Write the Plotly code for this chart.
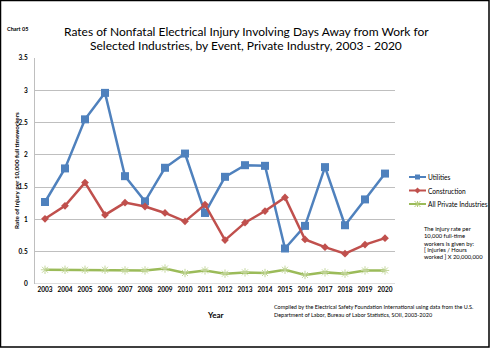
import plotly.graph_objects as go

years = [str(y) for y in range(2003, 2021)]
utilities = [1.27, 1.79, 2.55, 2.96, 1.67, 1.28, 1.80, 2.02, 1.10, 1.66, 1.84, 1.83, 0.55, 0.90, 1.81, 0.91, 1.31, 1.71]
construction = [1.01, 1.21, 1.57, 1.07, 1.26, 1.20, 1.10, 0.97, 1.23, 0.68, 0.95, 1.13, 1.34, 0.69, 0.57, 0.47, 0.61, 0.71]
all_private = [0.22, 0.22, 0.22, 0.22, 0.21, 0.21, 0.24, 0.17, 0.21, 0.16, 0.18, 0.17, 0.22, 0.14, 0.18, 0.16, 0.21, 0.21]
y_ticks = [0, 0.5, 1, 1.5, 2, 2.5, 3, 3.5]
y_tick_labels = ["0", "0.5", "1", "1.5", "2", "2.5", "3", "3.5"]
series_names = ["Utilities", "Construction", "All Private Industries"]
series_colors = ["#4F81BD", "#C0504D", "#9BBB59"]

FONT = "Lato"
W, H = 492, 348
L, R, T, B = 35, 97, 58, 64
PW, PH = W - L - R, H - T - B

def px(x):
    return (x - L) / PW

def py(y):
    return (H - B - y) / PH

fig = go.Figure()
fig.add_trace(go.Scatter(x=years, y=utilities, name=series_names[0], mode="lines+markers",
                         line=dict(color=series_colors[0], width=2.5),
                         marker=dict(symbol="square", size=8, color=series_colors[0])))
fig.add_trace(go.Scatter(x=years, y=construction, name=series_names[1], mode="lines+markers",
                         line=dict(color=series_colors[1], width=2.5),
                         marker=dict(symbol="diamond", size=6, color=series_colors[1])))
fig.add_trace(go.Scatter(x=years, y=all_private, name=series_names[2], mode="lines+markers",
                         line=dict(color=series_colors[2], width=2.5),
                         marker=dict(symbol="asterisk-open", size=7, color="#C3D69B",
                                     line=dict(width=1, color="#B5CC7A"))))

fig.update_layout(
    width=W, height=H,
    margin=dict(l=L, r=R, t=T, b=B, autoexpand=False),
    paper_bgcolor="white", plot_bgcolor="white",
    font=dict(family=FONT, color="black"),
    showlegend=False,
    xaxis=dict(type="category", range=[-0.5, 17.5], showgrid=False,
               showline=False, ticks="", zeroline=False, tickangle=0,
               tickfont=dict(size=6.5, family=FONT, weight="bold")),
    yaxis=dict(range=[0, 3.5], tickvals=y_ticks, ticktext=y_tick_labels,
               showgrid=True, gridcolor="#BFBFBF", gridwidth=1,
               showline=True, linecolor="#BFBFBF", linewidth=1,
               zeroline=False, ticks="", ticklabelstandoff=5,
               tickfont=dict(size=6.5, family=FONT, weight="bold")),
)

def ann(text, x, y, size, xanchor="left", bold=False, textangle=0):
    return dict(text=("<b>%s</b>" % text) if bold else text, x=px(x), y=py(y),
                xref="paper", yref="paper", xanchor=xanchor, yanchor="middle",
                showarrow=False, textangle=textangle, font=dict(size=size, family=FONT))

annotations = [
    ann("Rates of Nonfatal Electrical Injury Involving Days Away from Work for", 246, 31.5, 12, "center"),
    ann("Selected Industries, by Event, Private Industry, 2003 - 2020", 246, 45.5, 12, "center"),
    ann("Chart 05", 5, 29, 5.5, bold=True),
    ann("Rate of Injury per 10,000 full timeworkers", 16, 171, 6.3, "center", bold=True, textangle=-90),
    ann("Year", 215, 315, 8, "center", bold=True),
    ann("Compiled by the Electrical Safety Foundation International using data from the U.S.", 271.5, 306.5, 5.5),
    ann("Department of Labor, Bureau of Labor Statistics, SOII, 2003-2020", 271.5, 315, 5.5),
]
note_lines = ["The injury rate per", "10,000 full-time", "workers is given by:", "[ Injuries / Hours", "worked ] X 20,000,000"]
note_y = [228, 235.5, 243, 249.5, 256]
for t, yy in zip(note_lines, note_y):
    annotations.append(ann(t, 421.5, yy, 5.8))

legend_y = [177, 190.5, 204]
for name, yy in zip(series_names, legend_y):
    annotations.append(ann(name, 426, yy, 6.6))
fig.update_layout(annotations=annotations)

shapes = [
    dict(type="line", xref="paper", yref="y", x0=0, x1=1, y0=0, y1=0,
         line=dict(color="#BFBFBF", width=1)),
    dict(type="rect", xref="paper", yref="paper",
         x0=px(0.5), x1=px(489), y0=py(0.5), y1=py(347),
         line=dict(color="black", width=1.5), fillcolor="rgba(0,0,0,0)"),
]
# legend glyphs
for i, (c, yy) in enumerate(zip(series_colors, legend_y)):
    shapes.append(dict(type="line", xref="paper", yref="paper", x0=px(409), x1=px(426),
                       y0=py(yy), y1=py(yy), line=dict(color=c, width=2)))
    cx = 417.5
    if i == 0:
        shapes.append(dict(type="rect", xref="paper", yref="paper", x0=px(cx - 2.5), x1=px(cx + 2.5),
                           y0=py(yy - 2.5), y1=py(yy + 2.5), line=dict(width=0), fillcolor=c))
    elif i == 1:
        path = "M %f %f L %f %f L %f %f L %f %f Z" % (px(cx), py(yy - 3), px(cx + 3), py(yy),
                                                     px(cx), py(yy + 3), px(cx - 3), py(yy))
        shapes.append(dict(type="path", xref="paper", yref="paper", path=path,
                           line=dict(width=0), fillcolor=c))
    else:
        for dx, dy in [(3, 3), (3, -3), (0, 3)]:
            shapes.append(dict(type="line", xref="paper", yref="paper",
                               x0=px(cx - dx), x1=px(cx + dx), y0=py(yy - dy), y1=py(yy + dy),
                               line=dict(color="#B5CC7A", width=1)))
fig.update_layout(shapes=shapes)

fig.write_html("out.html")
